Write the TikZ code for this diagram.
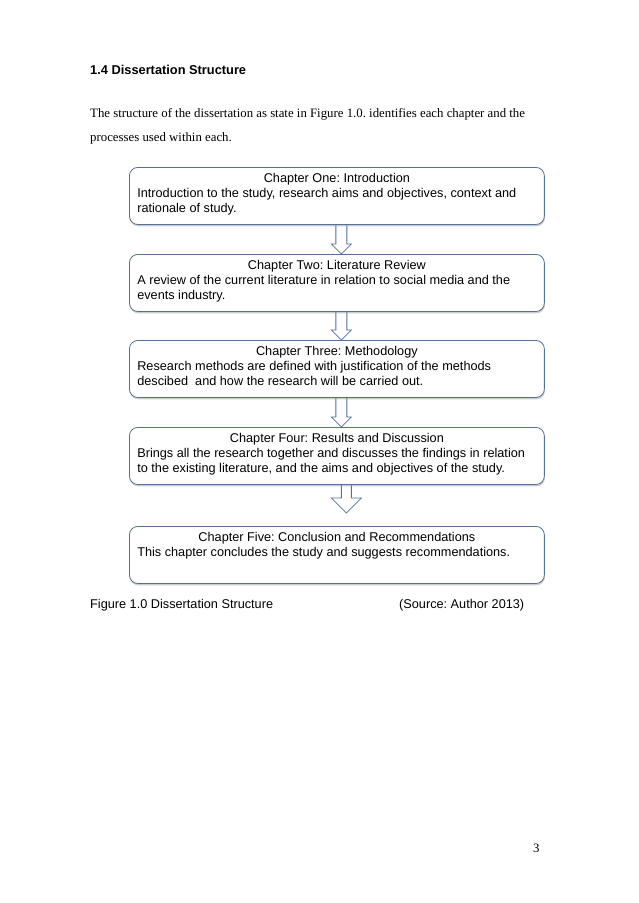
\documentclass[tikz,border=0pt]{standalone}
\usepackage{fontspec}
\setmainfont{Liberation Serif}
\setsansfont{Liberation Sans}
\usetikzlibrary{calc,shadows,backgrounds}
\definecolor{boxblue}{RGB}{84,113,152}
\frenchspacing
\tikzset{
  chapter/.style={draw=boxblue, line width=0.75pt, rounded corners=2.8mm, fill=white,
    inner xsep=2.6mm, inner ysep=0pt, anchor=north west,
    font=\sffamily\fontsize{11.9}{14}\selectfont,
    drop shadow={shadow xshift=0.2mm, shadow yshift=-0.6mm, fill=black!40, opacity=0.5}},
  blockarrow/.style={draw=boxblue, line width=0.75pt, fill=white},
  plain/.style={inner sep=0pt, anchor=base west}
}
\newcommand{\chapbox}[2]{\parbox[c][18.8mm][t]{131.4mm}{\centering\rule{0pt}{14pt}#1\par\raggedright #2}}
\begin{document}
\begin{tikzpicture}[x=0.3292mm, y=-0.3292mm]
  \useasboundingbox (0,0) rectangle (638,903);
  \node[plain, font=\sffamily\bfseries\fontsize{12}{14}\selectfont] (head) at (90,74.5) {1.4 Dissertation Structure};
  \node[plain, font=\fontsize{12}{14}\selectfont] (par1) at (90,117) {The structure of the dissertation as state in Figure 1.0. identifies each chapter and the};
  \node[plain, font=\fontsize{12}{14}\selectfont] (par2) at (90,141) {processes used within each.};
  % chapter boxes
  \node[chapter] (intro) at (129,167) {\chapbox{Chapter One: Introduction}{Introduction to the study, research aims and objectives, context and rationale of study.}};
  \node[chapter] (review) at (129,254) {\chapbox{Chapter Two: Literature Review}{A review of the current literature in relation to social media and the events industry.}};
  \node[chapter] (method) at (129,340) {\chapbox{Chapter Three: Methodology}{Research methods are defined with justification of the methods descibed\ \ and how the research will be carried out.}};
  \node[chapter] (results) at (129,427) {\chapbox{Chapter Four: Results and Discussion}{Brings all the research together and discusses the findings in relation to the existing literature, and the aims and objectives of the study.}};
  \node[chapter] (concl) at (129,526) {\chapbox{Chapter Five: Conclusion and Recommendations}{This chapter concludes the study and suggests recommendations.}};
  % hollow arrows
  \begin{scope}[on background layer]
    \foreach \a/\b in {intro/review, review/method, method/results}{
      \coordinate (s) at ($(\a.south)+(4.5,0)$);
      \coordinate (t) at (s |- \b.north);
      \draw[blockarrow] ($(s)+(-5.5,0)$) -- ($(t)+(-5.5,-10)$) -- ($(t)+(-10,-10)$) -- (t)
        -- ($(t)+(10,-10)$) -- ($(t)+(5.5,-10)$) -- ($(s)+(5.5,0)$);
    }
    \coordinate (s) at ($(results.south)+(9.5,0)$);
    \coordinate (t) at ($(s |- concl.north)+(0,-13)$);
    \draw[blockarrow] ($(s)+(-5,0)$) -- ($(t)+(-5,-15)$) -- ($(t)+(-15,-15)$) -- (t)
      -- ($(t)+(15,-15)$) -- ($(t)+(5,-15)$) -- ($(s)+(5,0)$);
  \end{scope}
  \node[plain, font=\sffamily\fontsize{11.9}{14}\selectfont] (caption) at (90,608) {Figure 1.0 Dissertation Structure};
  \node[plain, font=\sffamily\fontsize{11.9}{14}\selectfont] (source) at (399,608) {(Source: Author 2013)};
  \node[plain, font=\fontsize{12}{14}\selectfont] (page) at (533,852) {3};
\end{tikzpicture}
\end{document}
